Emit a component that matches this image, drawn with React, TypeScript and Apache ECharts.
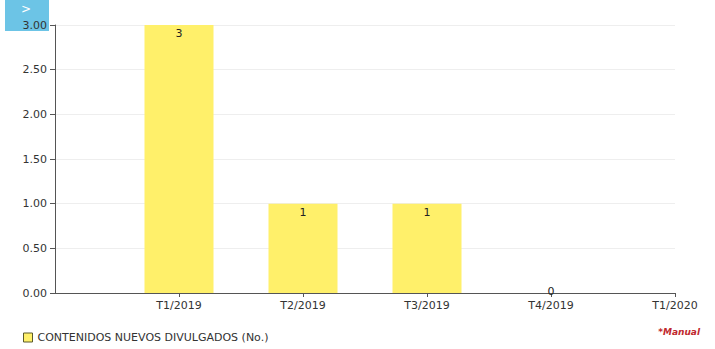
import React, { useEffect, useRef } from "react";
import * as echarts from "echarts";

const categories = ["", "T1/2019", "T2/2019", "T3/2019", "T4/2019", "T1/2020"];
const values: (number | null)[] = [null, 3, 1, 1, 0, null];
const seriesName = "CONTENIDOS NUEVOS DIVULGADOS (No.)";
const yTicks = { min: 0, max: 3, interval: 0.5 };
const noteText = "*Manual";

export default function App() {
  const ref = useRef<HTMLDivElement>(null);
  useEffect(() => {
    if (!ref.current) return;
    const chart = echarts.init(ref.current, undefined, { renderer: "svg" });
    const font = "DejaVu Sans";
    chart.setOption({
      animation: false,
      textStyle: { fontFamily: font },
      grid: { left: 55, right: 40, top: 25, bottom: 56 },
      legend: {
        left: 18,
        bottom: 1,
        itemWidth: 9,
        itemHeight: 9,
        itemGap: 6,
        icon: "rect",
        textStyle: { fontSize: 11, color: "#333", fontFamily: font },
        data: [{ name: seriesName, itemStyle: { color: "#FFF06A", borderColor: "#5a5a2a", borderWidth: 1 } }],
      },
      xAxis: {
        type: "category",
        data: categories,
        boundaryGap: false,
        axisLine: { lineStyle: { color: "#555" } },
        axisTick: {
          length: 4,
          lineStyle: { color: "#555" },
          interval: (i: number) => i > 0,
        },
        axisLabel: { color: "#333", fontSize: 11, margin: 7, fontFamily: font },
        splitLine: { show: false },
      },
      yAxis: {
        type: "value",
        min: yTicks.min,
        max: yTicks.max,
        interval: yTicks.interval,
        axisLine: { show: true, lineStyle: { color: "#555" } },
        axisTick: { show: true, length: 5, lineStyle: { color: "#555" } },
        axisLabel: {
          color: "#333",
          fontSize: 11,
          margin: 8,
          fontFamily: font,
          formatter: (v: number) => v.toFixed(2),
        },
        splitLine: { lineStyle: { color: "#eeeeee" } },
      },
      series: [
        {
          name: seriesName,
          type: "bar",
          barWidth: 69,
          itemStyle: { color: "#FFF06A" },
          label: {
            show: true,
            position: "insideTop",
            distance: 3,
            color: "#222",
            fontSize: 11,
            fontFamily: font,
          },
          data: values.map((v) =>
            v === 0
              ? { value: v, label: { position: "inside", offset: [0, -2] } }
              : v
          ),
        },
      ],
      graphic: [
        {
          type: "rect",
          left: 5,
          top: 0,
          z: 0,
          shape: { width: 44, height: 31 },
          style: { fill: "#6CC4E6" },
        },
        {
          type: "text",
          left: 21,
          top: 3,
          z: 1,
          style: { text: ">", fill: "#ffffff", font: "12px DejaVu Sans" },
        },
        {
          type: "text",
          right: 15,
          bottom: 13,
          style: {
            text: noteText,
            fill: "#C0282D",
            font: "italic bold 9px DejaVu Sans",
          },
        },
      ],
    });
    return () => chart.dispose();
  }, []);
  return <div ref={ref} style={{ width: 715, height: 349, position: "absolute", left: 0, top: 0 }} />;
}
